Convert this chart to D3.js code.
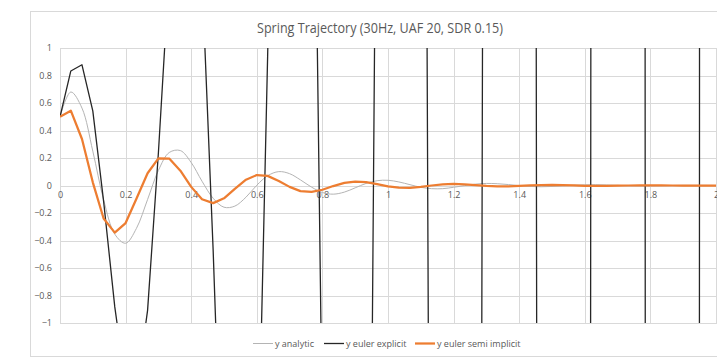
<!DOCTYPE html>
<html>
<head>
<meta charset="utf-8">
<script src="https://cdnjs.cloudflare.com/ajax/libs/d3/7.8.5/d3.min.js"></script>
<style>
  html, body { margin: 0; padding: 0; background: #fff; }
  svg { display: block; font-family: "Open Sans", "Liberation Sans", sans-serif; }
</style>
</head>
<body>
<div id="draw"></div>
<script>
// time steps (30Hz) and the three trajectories
var times = [0, 0.033, 0.067, 0.1, 0.133, 0.167, 0.2, 0.233, 0.267, 0.3,
  0.333, 0.367, 0.4, 0.433, 0.467, 0.5, 0.533, 0.567, 0.6, 0.633,
  0.667, 0.7, 0.733, 0.767, 0.8, 0.833, 0.867, 0.9, 0.933, 0.967,
  1, 1.033, 1.067, 1.1, 1.133, 1.167, 1.2, 1.233, 1.267, 1.3,
  1.333, 1.367, 1.4, 1.433, 1.467, 1.5, 1.533, 1.567, 1.6, 1.633,
  1.667, 1.7, 1.733, 1.767, 1.8, 1.833, 1.867, 1.9, 1.933, 1.967, 2];

var yAnalytic = [0.5, 0.68, 0.563, 0.25, -0.104, -0.354, -0.42, -0.312, -0.102, 0.11,
  0.24, 0.254, 0.167, 0.031, -0.093, -0.158, -0.15, -0.085, 0.002, 0.071,
  0.101, 0.086, 0.041, -0.012, -0.051, -0.063, -0.048, -0.017, 0.015, 0.035,
  0.038, 0.026, 0.006, -0.013, -0.023, -0.023, -0.013, -0.001, 0.01, 0.015,
  0.013, 0.007, -0.001, -0.007, -0.009, -0.007, -0.003, 0.002, 0.005, 0.006,
  0.004, 0.001, -0.002, -0.003, -0.003, -0.002, 0, 0.001, 0.001, 0.001, 0];

var yExplicit = [0.5, 0.833, 0.878, 0.543, -0.115, -0.883, -1.446, -1.504, -0.908, 0.238,
  1.557, 2.507, 2.576, 1.516, -0.477, -2.745, -4.347, -4.409, -2.526, 0.939,
  4.834, 7.532, 7.543, 4.204, -1.82, -8.507, -13.05, -12.9, -6.98, 3.485,
  14.96, 22.6, 22.05, 11.57, -6.61, -26.3, -39.1, -37.7, -19.15, 12.42,
  46.19, 67.68, 64.34, 31.6, -23.2, -81.1, -117.1, -109.8, -52.0, 43.07,
  142.2, 202.4, 187.4, 85.4, -79.5, -249.4, -349.9, -319.5, -139.7, 146.2, 436.9];

var ySemi = [0.5, 0.544, 0.338, 0.023, -0.24, -0.343, -0.273, -0.096, 0.089, 0.197,
  0.196, 0.108, -0.01, -0.1, -0.128, -0.093, -0.024, 0.042, 0.076, 0.07,
  0.033, -0.01, -0.041, -0.047, -0.031, -0.004, 0.019, 0.029, 0.024, 0.01,
  -0.006, -0.016, -0.017, -0.01, 0, 0.008, 0.011, 0.008, 0.003, -0.003,
  -0.006, -0.006, -0.003, 0.001, 0.003, 0.004, 0.003, 0.001, -0.002, -0.003,
  -0.002, -0.001, 0, 0.001, 0.001, 0.001, 0, 0, 0, 0, 0];

var xTicks = [0, 0.2, 0.4, 0.6, 0.8, 1, 1.2, 1.4, 1.6, 1.8, 2];
var yTicks = [-1, -0.8, -0.6, -0.4, -0.2, 0, 0.2, 0.4, 0.6, 0.8, 1];
var seriesNames = ["y analytic", "y euler explicit", "y euler semi implicit"];
var seriesColors = ["#b4b4b4", "#262626", "#ed7d31"];
var seriesWidths = [1, 1.3, 2.25];

window.onload = function(){
  var W = 717, H = 363;
  var svg = d3.select("#draw").append("svg").attr("width", W).attr("height", H);

  // outer chart frame
  svg.append("rect").attr("x", 30.5).attr("y", 11.5).attr("width", 700).attr("height", 345)
    .attr("fill", "#fff").attr("stroke", "#d9d9d9");

  svg.append("text").attr("x", 380).attr("y", 33).attr("text-anchor", "middle")
    .attr("font-size", 14).attr("fill", "#595959")
    .attr("textLength", 246).attr("lengthAdjust", "spacingAndGlyphs")
    .text("Spring Trajectory (30Hz, UAF 20, SDR 0.15)");

  var pLeft = 60, pRight = 716, pTop = 48, pBottom = 323;
  var x = d3.scaleLinear().domain([0, 2]).range([pLeft, pRight]);
  var y = d3.scaleLinear().domain([-1, 1]).range([pBottom, pTop]);
  var fmt = function(d){ return d3.format("~g")(+d.toFixed(1)); };

  // grid
  svg.append("g").selectAll("line").data(yTicks).enter().append("line")
    .attr("x1", pLeft).attr("x2", W)
    .attr("y1", function(d){ return Math.round(y(d)) + 0.5; })
    .attr("y2", function(d){ return Math.round(y(d)) + 0.5; })
    .attr("stroke", "#d9d9d9").attr("stroke-width", 1);
  svg.append("g").selectAll("line").data(xTicks).enter().append("line")
    .attr("y1", pTop).attr("y2", pBottom)
    .attr("x1", function(d){ return Math.round(x(d)) + 0.5; })
    .attr("x2", function(d){ return Math.round(x(d)) + 0.5; })
    .attr("stroke", "#d9d9d9").attr("stroke-width", 1);

  // y labels
  var gy = svg.append("g").attr("transform", "translate(" + pLeft + ",0)")
    .call(d3.axisLeft(y).tickValues(yTicks).tickSize(0).tickPadding(8).tickFormat(fmt));
  gy.select(".domain").remove();
  gy.selectAll("text").attr("fill", "#595959").attr("font-size", 9)
    .attr("font-family", "'Open Sans', sans-serif");

  // x labels along the zero line
  var gx = svg.append("g").attr("transform", "translate(0," + y(0) + ")")
    .call(d3.axisBottom(x).tickValues(xTicks).tickSize(0).tickPadding(6).tickFormat(fmt));
  gx.select(".domain").remove();
  gx.selectAll("text").attr("fill", "#595959").attr("font-size", 9)
    .attr("font-family", "'Open Sans', sans-serif");

  svg.append("clipPath").attr("id", "plotclip").append("rect")
    .attr("x", pLeft).attr("y", pTop).attr("width", pRight - pLeft + 2).attr("height", pBottom - pTop);

  var allSeries = [yAnalytic, yExplicit, ySemi];
  var plot = svg.append("g").attr("clip-path", "url(#plotclip)");
  allSeries.forEach(function(vals, i){
    var line = d3.line()
      .x(function(d, j){ return x(times[j]); })
      .y(function(d){ return y(d); });
    if (i === 0) line.curve(d3.curveCatmullRom);
    plot.append("path").datum(vals).attr("d", line)
      .attr("fill", "none").attr("stroke", seriesColors[i])
      .attr("stroke-width", seriesWidths[i]).attr("stroke-linejoin", "round");
  });

  // legend
  var legendX = [253, 324, 415];
  var lg = svg.append("g");
  seriesNames.forEach(function(name, i){
    lg.append("line").attr("x1", legendX[i]).attr("x2", legendX[i] + 20)
      .attr("y1", 343.5).attr("y2", 343.5)
      .attr("stroke", seriesColors[i]).attr("stroke-width", seriesWidths[i]);
    lg.append("text").attr("x", legendX[i] + 22).attr("y", 346.5)
      .attr("font-size", 9).attr("fill", "#595959").text(name);
  });
};
</script>
</body>
</html>
